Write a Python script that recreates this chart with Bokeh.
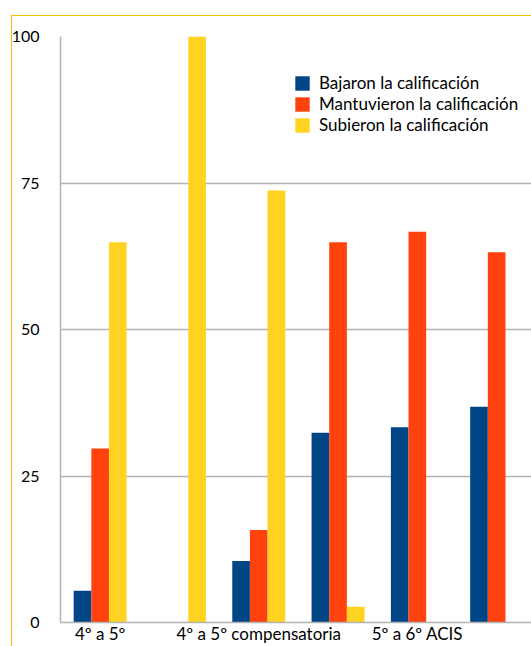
import numpy as np
from bokeh.plotting import figure
from bokeh.models import Range1d, FixedTicker, Legend, LegendItem
from bokeh.embed import file_html
from bokeh.resources import INLINE

# ---- data ----
categories = ["4º a 5º", "4º a 5º ACIS", "4º a 5º compensatoria",
              "5º a 6º", "5º a 6º ACIS", "5º a 6º compensatoria"]
shown_labels = [True, False, True, False, True, False]
series_names = ["Bajaron la calificación", "Mantuvieron la calificación", "Subieron la calificación"]
bajaron = [5.4, 0, 10.5, 32.4, 33.3, 36.8]
mantuvieron = [29.7, 0, 15.8, 64.9, 66.7, 63.2]
subieron = [64.9, 100, 73.7, 2.7, 0, 0]
y_ticks = [0, 25, 50, 75, 100]

colors = ["#004586", "#ff420e", "#ffd320"]
FONT = "Lato"
GRID = "#b3b3b3"
FRAME_YELLOW = "#f2c200"

canvas_w, canvas_h = 531, 646
left_border, top_border, bottom_border = 60, 36, 24
frame_w = canvas_w - left_border
frame_h = canvas_h - top_border - bottom_border
cat_px = 79.3
n = len(categories)

p = figure(width=canvas_w, height=canvas_h, output_backend="svg", toolbar_location=None,
           x_range=Range1d(0, frame_w / cat_px), y_range=Range1d(0, 100),
           min_border_left=left_border, min_border_right=0,
           min_border_top=top_border, min_border_bottom=bottom_border)

# yellow frame of the embedded chart object (only its top/left edges are in view),
# painted as the host background behind a transparent border area
p.border_fill_alpha = 0
p.background_fill_color = "white"
p.styles = {
    "background-color": "white",
    "background-image": f"linear-gradient({FRAME_YELLOW},{FRAME_YELLOW}), linear-gradient({FRAME_YELLOW},{FRAME_YELLOW})",
    "background-size": "1px 100%, 100% 1px",
    "background-position": "11px 15px, 11px 15px",
    "background-repeat": "no-repeat",
}

bw = 0.2226
centers = np.arange(n) + 0.5
renderers = []
for k, vals in enumerate([bajaron, mantuvieron, subieron]):
    r = p.vbar(x=centers + (k - 1) * bw, top=vals, width=bw, bottom=0,
               fill_color=colors[k], line_color=None)
    renderers.append(r)

p.outline_line_color = None
p.xgrid.grid_line_color = None
p.ygrid.grid_line_color = GRID
p.ygrid.grid_line_width = 1.5
p.ygrid.ticker = FixedTicker(ticks=y_ticks)

for ax in (p.xaxis, p.yaxis):
    ax.major_tick_line_color = None
    ax.minor_tick_line_color = None
    ax.major_tick_out = 0
    ax.major_tick_in = 0
    ax.minor_tick_out = 0
    ax.major_label_text_font = FONT
    ax.major_label_text_color = "black"

p.yaxis.axis_line_color = GRID
p.yaxis.axis_line_width = 1.5
p.yaxis.ticker = FixedTicker(ticks=y_ticks)
p.yaxis.major_label_standoff = 21
p.yaxis.major_label_text_font_size = "16px"

p.xaxis.axis_line_color = GRID
p.xaxis.axis_line_width = 1.5
p.xaxis.ticker = FixedTicker(ticks=list(centers))
p.xaxis.major_label_overrides = {float(c): (lab if s else "") for c, lab, s in zip(centers, categories, shown_labels)}
p.xaxis.major_label_standoff = 0
p.xaxis.major_label_text_font_size = "17px"

legend = Legend(items=[LegendItem(label=series_names[i], renderers=[renderers[i]]) for i in range(3)],
                location=(233, frame_h - 39 - 60), orientation="vertical",
                glyph_width=18, glyph_height=18, label_height=20, spacing=0,
                label_standoff=8, padding=0, margin=0,
                border_line_color=None, background_fill_alpha=0,
                label_text_font=FONT, label_text_font_size="17px", label_text_color="black")
p.add_layout(legend)

open("out.html", "w").write(file_html(p, INLINE))
